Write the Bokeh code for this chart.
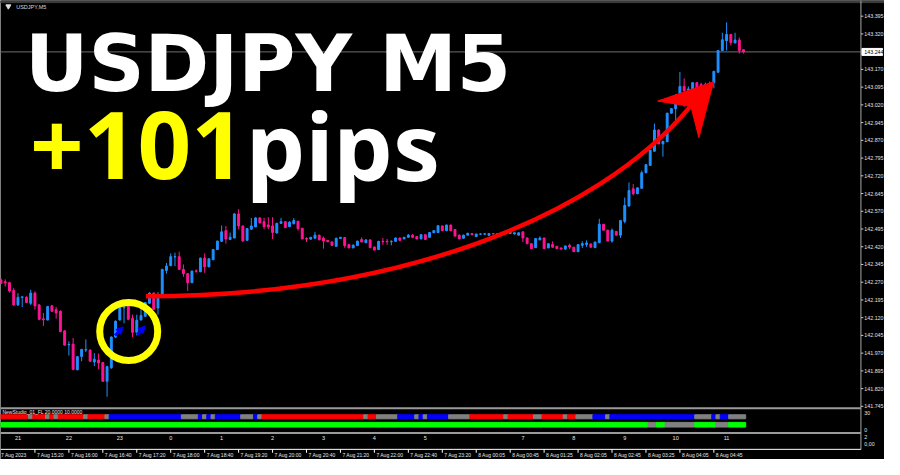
from bokeh.plotting import figure
from bokeh.models import Range1d, Arrow, NormalHead, ColumnDataSource
from bokeh.core.properties import value
from bokeh.embed import file_html
from bokeh.resources import INLINE

# ---------------- data (USDJPY M5, 7 Aug 14:40 -> 8 Aug 05:00) ----------------
open_ = [
    142.279, 142.272, 142.268, 142.235, 142.174, 142.206, 142.206, 142.181, 142.224, 142.174,
    142.115, 142.110, 142.170, 142.154, 142.147, 142.064, 142.005, 142.008, 141.900, 141.956,
    141.983, 141.983, 141.933, 141.941, 141.930, 141.851, 141.908, 142.038, 142.110, 142.162,
    142.170, 142.117, 142.058, 142.110, 142.126, 142.181, 142.224, 142.161, 142.208, 142.320,
    142.340, 142.377, 142.378, 142.324, 142.306, 142.268, 142.318, 142.314, 142.372, 142.335,
    142.365, 142.408, 142.443, 142.488, 142.451, 142.457, 142.559, 142.508, 142.447, 142.494,
    142.504, 142.542, 142.526, 142.512, 142.508, 142.478, 142.519, 142.526, 142.505, 142.517,
    142.528, 142.498, 142.455, 142.452, 142.456, 142.469, 142.456, 142.447, 142.440, 142.422,
    142.455, 142.459, 142.429, 142.415, 142.425, 142.451, 142.437, 142.449, 142.419, 142.408,
    142.443, 142.443, 142.441, 142.443, 142.457, 142.453, 142.460, 142.469, 142.463, 142.453,
    142.471, 142.460, 142.479, 142.480, 142.508, 142.488, 142.512, 142.493, 142.469, 142.456,
    142.469, 142.476, 142.463, 142.473, 142.473, 142.468, 142.476, 142.476, 142.474, 142.476,
    142.476, 142.474, 142.469, 142.483, 142.457, 142.433, 142.416, 142.449, 142.457, 142.415,
    142.430, 142.422, 142.415, 142.410, 142.426, 142.418, 142.399, 142.426, 142.429, 142.432,
    142.416, 142.437, 142.515, 142.490, 142.444, 142.485, 142.469, 142.527, 142.592, 142.665,
    142.644, 142.667, 142.733, 142.764, 142.824, 142.914, 142.855, 142.864, 142.985, 143.004,
    143.032, 143.098, 143.083, 143.083, 143.114, 143.106, 143.094, 143.102, 143.114, 143.158,
    143.250, 143.291, 143.318, 143.282, 143.294, 143.253]
high = [
    142.287, 142.282, 142.272, 142.246, 142.224, 142.209, 142.211, 142.238, 142.231, 142.178,
    142.140, 142.170, 142.174, 142.165, 142.151, 142.068, 142.020, 142.034, 141.958, 141.987,
    142.028, 141.986, 141.970, 141.969, 141.933, 141.917, 142.041, 142.109, 142.175, 142.188,
    142.174, 142.133, 142.133, 142.165, 142.186, 142.227, 142.227, 142.228, 142.327, 142.351,
    142.392, 142.395, 142.399, 142.345, 142.309, 142.319, 142.324, 142.374, 142.392, 142.370,
    142.411, 142.446, 142.510, 142.508, 142.480, 142.562, 142.579, 142.509, 142.499, 142.542,
    142.544, 142.544, 142.542, 142.545, 142.545, 142.521, 142.542, 142.528, 142.528, 142.541,
    142.529, 142.500, 142.460, 142.461, 142.483, 142.471, 142.463, 142.448, 142.442, 142.458,
    142.461, 142.460, 142.430, 142.429, 142.445, 142.460, 142.451, 142.451, 142.420, 142.444,
    142.457, 142.453, 142.447, 142.459, 142.459, 142.461, 142.474, 142.474, 142.464, 142.472,
    142.472, 142.482, 142.489, 142.510, 142.509, 142.513, 142.513, 142.494, 142.471, 142.471,
    142.479, 142.477, 142.475, 142.477, 142.477, 142.477, 142.477, 142.477, 142.482, 142.488,
    142.486, 142.480, 142.480, 142.484, 142.459, 142.434, 142.456, 142.464, 142.459, 142.434,
    142.443, 142.423, 142.416, 142.425, 142.433, 142.419, 142.430, 142.443, 142.447, 142.433,
    142.441, 142.538, 142.516, 142.492, 142.497, 142.486, 142.532, 142.628, 142.692, 142.685,
    142.670, 142.742, 142.768, 142.829, 142.941, 142.915, 142.868, 142.986, 143.005, 143.066,
    143.159, 143.132, 143.098, 143.115, 143.115, 143.114, 143.114, 143.118, 143.163, 143.252,
    143.325, 143.369, 143.319, 143.325, 143.305, 143.254]
low = [
    142.263, 142.252, 142.227, 142.170, 142.170, 142.165, 142.182, 142.174, 142.154, 142.109,
    142.085, 142.109, 142.146, 142.116, 142.060, 142.002, 141.960, 141.897, 141.897, 141.936,
    141.974, 141.933, 141.915, 141.902, 141.849, 141.786, 141.904, 142.035, 142.109, 142.096,
    142.109, 142.038, 142.045, 142.109, 142.125, 142.178, 142.154, 142.133, 142.203, 142.306,
    142.338, 142.338, 142.323, 142.293, 142.233, 142.266, 142.310, 142.313, 142.310, 142.333,
    142.364, 142.407, 142.440, 142.433, 142.448, 142.456, 142.494, 142.442, 142.446, 142.493,
    142.503, 142.519, 142.494, 142.494, 142.453, 142.476, 142.517, 142.499, 142.503, 142.515,
    142.488, 142.452, 142.440, 142.451, 142.455, 142.448, 142.412, 142.440, 142.425, 142.420,
    142.453, 142.416, 142.414, 142.414, 142.423, 142.439, 142.436, 142.415, 142.404, 142.407,
    142.428, 142.428, 142.426, 142.441, 142.443, 142.452, 142.459, 142.456, 142.452, 142.452,
    142.449, 142.459, 142.478, 142.479, 142.486, 142.486, 142.486, 142.464, 142.452, 142.455,
    142.468, 142.469, 142.461, 142.470, 142.470, 142.468, 142.472, 142.472, 142.472, 142.475,
    142.475, 142.472, 142.468, 142.440, 142.431, 142.411, 142.415, 142.448, 142.411, 142.414,
    142.416, 142.411, 142.408, 142.408, 142.410, 142.398, 142.398, 142.415, 142.419, 142.416,
    142.415, 142.436, 142.489, 142.443, 142.437, 142.468, 142.457, 142.519, 142.591, 142.637,
    142.643, 142.666, 142.731, 142.762, 142.822, 142.854, 142.801, 142.863, 142.983, 142.930,
    143.031, 143.012, 143.081, 143.081, 143.085, 143.090, 143.085, 143.094, 143.090, 143.156,
    143.249, 143.250, 143.271, 143.280, 143.237, 143.237]
close = [
    142.265, 142.267, 142.233, 142.174, 142.206, 142.208, 142.184, 142.224, 142.170, 142.113,
    142.111, 142.167, 142.147, 142.140, 142.061, 142.004, 142.007, 141.902, 141.955, 141.986,
    141.985, 141.936, 141.944, 141.928, 141.851, 141.913, 142.038, 142.105, 142.165, 142.166,
    142.113, 142.058, 142.109, 142.129, 142.184, 142.224, 142.156, 142.208, 142.324, 142.338,
    142.378, 142.378, 142.324, 142.306, 142.268, 142.317, 142.316, 142.372, 142.335, 142.369,
    142.408, 142.444, 142.483, 142.453, 142.460, 142.559, 142.508, 142.444, 142.497, 142.508,
    142.542, 142.521, 142.505, 142.504, 142.480, 142.519, 142.526, 142.501, 142.524, 142.531,
    142.497, 142.453, 142.452, 142.460, 142.469, 142.449, 142.444, 142.441, 142.426, 142.456,
    142.460, 142.425, 142.415, 142.427, 142.444, 142.440, 142.449, 142.416, 142.406, 142.443,
    142.441, 142.441, 142.443, 142.457, 142.447, 142.460, 142.469, 142.460, 142.453, 142.471,
    142.451, 142.480, 142.488, 142.509, 142.488, 142.512, 142.488, 142.465, 142.453, 142.469,
    142.477, 142.471, 142.474, 142.474, 142.475, 142.476, 142.474, 142.474, 142.480, 142.483,
    142.483, 142.479, 142.479, 142.457, 142.433, 142.412, 142.455, 142.457, 142.412, 142.433,
    142.418, 142.412, 142.410, 142.423, 142.419, 142.399, 142.429, 142.433, 142.436, 142.418,
    142.440, 142.515, 142.490, 142.444, 142.490, 142.469, 142.531, 142.595, 142.658, 142.644,
    142.669, 142.733, 142.767, 142.828, 142.914, 142.855, 142.866, 142.985, 143.004, 143.032,
    143.098, 143.080, 143.087, 143.114, 143.087, 143.098, 143.106, 143.110, 143.162, 143.250,
    143.295, 143.318, 143.284, 143.294, 143.250, 143.244]

current_price = 143.244
price_ticks = [143.395, 143.320, 143.170, 143.095, 143.020, 142.945, 142.870, 142.795,
               142.720, 142.645, 142.570, 142.495, 142.420, 142.345, 142.270, 142.195,
               142.120, 142.045, 141.970, 141.895, 141.820, 141.745]

time_labels = ["7 Aug 2023", "7 Aug 15:20", "7 Aug 16:00", "7 Aug 16:40", "7 Aug 17:20",
               "7 Aug 18:00", "7 Aug 18:40", "7 Aug 19:20", "7 Aug 20:00", "7 Aug 20:40",
               "7 Aug 21:20", "7 Aug 22:00", "7 Aug 22:40", "7 Aug 23:20", "8 Aug 00:05",
               "8 Aug 00:45", "8 Aug 01:25", "8 Aug 02:05", "8 Aug 02:45", "8 Aug 03:25",
               "8 Aug 04:05", "8 Aug 04:45"]
time_label_bars = [0, 8, 16, 24, 32, 40, 48, 56, 64, 72, 80, 88, 96, 104, 112,
                   120, 128, 136, 144, 152, 160, 168]

hour_labels = ["21", "22", "23", "0", "1", "2", "3", "4", "5", "7", "8", "9", "10", "11"]
hour_label_bars = [4, 16, 28, 40, 52, 64, 76, 88, 100, 123, 135, 147, 159, 171]

# indicator NewStudio_01_FL : state runs (start bar, end bar, colour)
trend_start = [0, 7, 8, 11, 12, 13, 14, 20, 21, 25, 26, 43, 47, 48, 49, 50, 51, 57, 60, 61,
               62, 86, 87, 89, 94, 98, 99, 100, 101, 106, 111, 119, 120, 126, 128, 133, 134,
               136, 140, 143, 144, 164, 168, 169, 170, 172]
trend_end = trend_start[1:] + [176]
trend_state = ["red", "gray", "red", "gray", "red", "gray", "red", "gray", "red", "gray",
               "blue", "gray", "blue", "gray", "blue", "gray", "blue", "gray", "blue", "gray",
               "red", "gray", "red", "gray", "blue", "gray", "blue", "gray", "blue", "gray",
               "red", "gray", "red", "gray", "red", "gray", "red", "gray", "blue", "gray",
               "blue", "gray", "blue", "gray", "blue", "gray"]
filter_start = [0, 153, 155, 157, 164, 169, 172]
filter_end = filter_start[1:] + [176]
filter_state = ["green", "gray", "green", "gray", "green", "gray", "green"]

signal_bars = [27.8, 33.0]
signal_prices = [142.062, 142.066]

# ---------------- figure ----------------
W, H = 884, 459
REF_W, REF_H = 900, 475
BAR_PX = 4.32
x_lo = -0.5 / BAR_PX
x_hi = (REF_W - 0.5) / BAR_PX
PPX = 1 / 244.7
y_hi = 141.745 + 420 * PPX
y_lo = 141.745 - (REF_H - 420) * PPX

p = figure(width=W, height=H, x_range=Range1d(x_lo, x_hi), y_range=Range1d(y_lo, y_hi),
           output_backend="svg", toolbar_location=None, min_border=0,
           x_axis_type=None, y_axis_type=None,
           background_fill_color="black", border_fill_color="black", outline_line_color=None)
p.extra_x_ranges = {"px": Range1d(0, REF_W)}
p.extra_y_ranges = {"px": Range1d(REF_H, 0)}

BULL = "#1e90ff"
BEAR = "#ff1493"
COLMAP = {"red": "#ff0000", "blue": "#0000ff", "gray": "#808080", "green": "#00ff00"}

bars = list(range(len(close)))
src = ColumnDataSource(dict(
    x=bars, h=high, l=low,
    top=[max(o, c) for o, c in zip(open_, close)],
    bottom=[min(o, c) for o, c in zip(open_, close)],
    color=[BULL if c >= o else BEAR for o, c in zip(open_, close)]))

# current price line
p.segment(x0=[0], x1=[876], y0=[current_price], y1=[current_price],
          x_range_name="px", line_color="#6e6e6e", line_width=1)

p.segment(x0="x", y0="h", x1="x", y1="l", line_color="color", line_width=1, source=src)
p.vbar(x="x", top="top", bottom="bottom", width=0.45, fill_color="color",
       line_color="color", line_width=1, source=src)

# ---- annotations: circle, signals, curved arrow ----
p.scatter(x=[30.1], y=[142.062], size=58, marker="circle", fill_alpha=0,
          line_color="#ffff00", line_width=7)
for sb, sp in zip(signal_bars, signal_prices):
    p.add_layout(Arrow(x_start=sb - 0.9, y_start=sp - 0.017, x_end=sb + 1.0, y_end=sp + 0.019,
                       line_color="#0000ff", line_width=3,
                       end=NormalHead(size=7, line_color="#0000ff", fill_color="#0000ff")))

p.bezier(x0=[34.14], y0=[142.211], cx0=[92.5], cy0=[142.211],
         cx1=[139.9], cy1=[142.530], x1=[162.7], y1=[143.018],
         line_color="#ff0000", line_width=4.5)
p.patch(x=[154.75, 167.94, 164.47, 162.6], y=[143.036, 143.118, 142.881, 143.013],
        color="#ff0000", line_width=1)

# ---- title overlay ----
p.text(x=[25], y=[66], text=["USDJPY M5"], x_range_name="px", y_range_name="px",
       text_font=value("DejaVu Sans"), text_font_style="bold", text_font_size="78px",
       text_color="white", text_baseline="alphabetic")
p.text(x=[30], y=[150], text=["+101"], x_range_name="px", y_range_name="px",
       text_font=value("Noto Sans"), text_font_style="bold", text_font_size="94px",
       text_color="#ffff00", text_baseline="alphabetic")
p.text(x=[250], y=[150], text=["pips"], x_range_name="px", y_range_name="px",
       text_font=value("Noto Sans"), text_font_style="bold", text_font_size="94px",
       text_color="white", text_baseline="alphabetic")

# ---- frame lines ----
p.quad(left=[0], right=[REF_W], top=[0], bottom=[2.2], x_range_name="px", y_range_name="px",
       color="#3c3c3c")
p.segment(x0=[876], x1=[876], y0=[0], y1=[464.5], x_range_name="px", y_range_name="px",
          line_color="#a8a8a8", line_width=1)
p.segment(x0=[0, 0], x1=[876, 876], y0=[422, 447.6], y1=[422, 447.6],
          x_range_name="px", y_range_name="px", line_color="#9a9a9a", line_width=2)
p.segment(x0=[0], x1=[876], y0=[464.5], y1=[464.5], x_range_name="px", y_range_name="px",
          line_color="white", line_width=1)

SF = value("Liberation Sans")
# chart label
p.scatter(x=[8], y=[6], marker="inverted_triangle", size=5, color="#dddddd",
          x_range_name="px", y_range_name="px")
p.text(x=[16], y=[6.5], text=["USDJPY,M5"], x_range_name="px", y_range_name="px",
       text_font=SF, text_font_size="5.5px", text_color="#d8d8d8", text_baseline="middle")

# price axis
p.segment(x0=[876] * len(price_ticks), x1=[878.5] * len(price_ticks), y0=price_ticks,
          y1=price_ticks, x_range_name="px", line_color="#c8c8c8", line_width=1)
p.text(x=[879.5] * len(price_ticks), y=price_ticks, text=[f"{v:.3f}" for v in price_ticks],
       x_range_name="px", text_font=SF, text_font_size="5.3px", text_color="#e0e0e0",
       text_baseline="middle")
p.quad(left=[877], right=[898], top=[current_price + 3.6 * PPX],
       bottom=[current_price - 3.6 * PPX], x_range_name="px", color="white")
p.text(x=[879.5], y=[current_price], text=[f"{current_price:.3f}"], x_range_name="px",
       text_font=SF, text_font_size="5.3px", text_color="black", text_baseline="middle")

# indicator sub window
p.quad(left=[s - 0.5 for s in trend_start], right=[e - 0.5 for e in trend_end],
       top=[428.7] * len(trend_start), bottom=[432.9] * len(trend_start),
       color=[COLMAP[s] for s in trend_state], y_range_name="px")
p.quad(left=[s - 0.5 for s in filter_start], right=[e - 0.5 for e in filter_end],
       top=[436.6] * len(filter_start), bottom=[441.4] * len(filter_start),
       color=[COLMAP[s] for s in filter_state], y_range_name="px")
p.text(x=[2], y=[426.3], text=["NewStudio_01_FL 20.0000 10.0000"], x_range_name="px",
       y_range_name="px", text_font=SF, text_font_size="5px", text_color="#e8e8e8",
       text_baseline="middle")
p.text(x=[879.5] * 4, y=[426.5, 444, 451.7, 459.3], text=["30", "0", "2", "0,00"],
       x_range_name="px", y_range_name="px", text_font=SF, text_font_size="5.3px",
       text_color="#e0e0e0", text_baseline="middle")

# hour labels
p.text(x=hour_label_bars, y=[452.7] * len(hour_labels), text=hour_labels, y_range_name="px",
       text_font=SF, text_font_size="5.5px", text_color="#e8e8e8", text_baseline="middle",
       text_align="center")

# time axis
p.segment(x0=time_label_bars[1:], x1=time_label_bars[1:], y0=[464.5] * 21, y1=[468] * 21,
          y_range_name="px", line_color="white", line_width=1)
p.text(x=time_label_bars, y=[470] * len(time_labels), text=time_labels, y_range_name="px",
       x_offset=[0] + [2] * 21, text_font=SF, text_font_size="5px", text_color="#e8e8e8",
       text_baseline="middle")

open("out.html", "w").write(file_html(p, INLINE))
